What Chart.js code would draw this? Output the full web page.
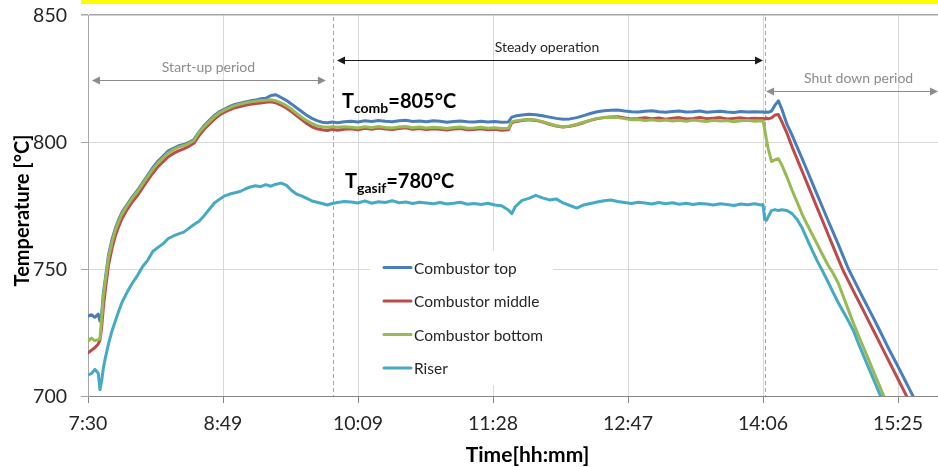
<!DOCTYPE html>
<html>
<head>
<meta charset="utf-8">
<script src="https://cdn.jsdelivr.net/npm/chart.js@4.4.1/dist/chart.umd.min.js"></script>
<style>
  html, body { margin: 0; padding: 0; background: #ffffff; }
  #wrap { width: 938px; height: 467px; position: relative; }
  canvas { display: block; }
</style>
</head>
<body>
<div id="wrap"><canvas id="chart" width="938" height="467"></canvas></div>
<script>
// Sample times, in minutes after 7:30
const timeMin = [
  0, 2, 4, 6, 7, 8, 9, 10, 12, 14, 16, 18, 20,
  23, 26, 29, 32, 35, 38, 41, 44, 47, 50, 53, 56, 59, 62, 65, 68, 71, 74, 77, 80,
  83, 86, 89, 92, 95, 98, 101, 104, 107, 110, 113, 116, 119, 122, 125, 128, 131,
  134, 137, 140, 143, 146, 150,
  154, 158, 162, 166, 170, 174, 178, 182, 186, 190, 194, 198, 202, 206, 210, 214,
  218, 222, 226, 230, 234, 238, 242, 246, 248, 250, 254, 258, 262, 266, 270, 274,
  278, 282, 286, 290, 294, 298, 302, 306, 310, 314, 318, 322, 326, 330, 334, 338,
  342, 346, 350, 354, 358, 362, 366, 370, 374, 378, 382, 386, 390, 394,
  395, 396, 397, 398, 400, 402, 404, 406, 409, 412, 415, 418, 421, 424, 427, 430,
  433, 436, 439, 442, 445, 448, 451, 454, 457, 460, 463, 466, 469, 472, 475, 478,
  481, 484, 487, 490, 493, 496, 498
];

// X axis tick positions (minutes after 7:30) and their clock labels
const tickMinutes = [0, 79, 158, 237, 316, 395, 474];
const tickLabels = ['7:30', '8:49', '10:09', '11:28', '12:47', '14:06', '15:25'];

// Temperatures, °C
const combustorTop = [
  731.5, 732.0, 731.0, 732.2, 729.5, 732.5, 740.5, 745.5, 755.5, 761.5, 766.0, 769.5, 772.5,
  775.5, 778.5, 781.0, 784.0, 787.0, 790.0, 792.5, 794.5, 796.5, 797.5, 798.5, 799.0, 799.8,
  801.0, 804.0, 806.5, 808.5, 810.5, 812.0, 813.0, 814.0, 814.8, 815.3, 815.8, 816.2, 816.5,
  817.0, 817.2, 818.3, 818.6, 817.5, 816.4, 815.0, 813.5, 812.0, 810.5, 809.3, 808.4, 807.8,
  807.6, 807.9, 807.6, 808.0,
  808.2, 807.9, 808.4, 808.1, 808.5, 808.2, 808.0, 808.4, 808.6, 808.1, 808.3, 808.0, 808.4,
  808.2, 807.8, 808.1, 808.3, 808.0, 807.9, 808.2, 807.9, 808.1, 807.8, 807.9, 809.8, 810.2,
  810.6, 810.9, 810.7, 810.3, 809.8, 809.3, 809.0, 809.1, 809.6, 810.4, 811.2, 811.9, 812.3,
  812.5, 812.6, 812.2, 811.9, 811.8, 812.1, 812.3, 811.9, 811.7, 812.0, 812.2, 811.8, 811.9,
  812.2, 811.7, 811.9, 812.1, 811.8, 811.6, 812.0, 811.8, 811.9, 811.8,
  811.9, 811.6, 811.8, 811.7, 812.2, 814.5, 816.2, 813.0, 807.0, 802.7, 798.0, 793.3, 788.5,
  783.6, 778.8, 774.0, 769.2, 764.5, 759.8, 754.9, 750.0, 746.0, 742.0, 738.0, 734.1, 730.2,
  726.2, 722.1, 718.0, 714.2, 710.3, 706.3, 702.3, 698.4, 694.5, null, null, null, null
];
const combustorMiddle = [
  717.0, 718.0, 719.0, 720.5, 722.0, 727.0, 735.0, 741.0, 751.5, 758.0, 763.0, 766.8, 770.0,
  773.5, 776.5, 779.0, 782.0, 785.0, 787.8, 790.3, 792.3, 794.2, 795.5, 796.5, 797.3, 798.3,
  799.5, 802.5, 805.0, 807.0, 809.0, 810.6, 811.8, 812.7, 813.5, 814.0, 814.5, 814.9, 815.2,
  815.4, 815.6, 815.8, 815.4, 814.5, 813.4, 812.0, 810.4, 808.8, 807.3, 806.0, 805.2, 804.8,
  804.5, 805.0, 804.6, 805.0,
  805.2, 804.8, 805.4, 805.0, 805.5, 805.1, 804.9, 805.3, 805.6, 805.0, 805.3, 804.9, 805.2,
  805.0, 804.7, 805.1, 805.3, 804.8, 804.9, 805.2, 804.8, 805.0, 804.6, 804.8, 807.6, 808.0,
  808.5, 808.8, 808.5, 807.9, 807.0, 806.3, 805.9, 806.2, 806.8, 807.6, 808.5, 809.2, 809.6,
  809.8, 809.9, 809.5, 809.1, 809.3, 809.6, 809.2, 809.5, 809.0, 809.4, 809.6, 809.1, 809.3,
  809.7, 809.2, 809.4, 809.6, 809.1, 809.3, 809.5, 809.2, 809.4, 809.3,
  809.3, 809.0, 809.4, 809.1, 809.5, 810.6, 810.8, 808.0, 803.5, 798.1, 793.2, 788.3, 783.4,
  778.5, 773.6, 768.7, 763.8, 758.9, 754.0, 749.2, 745.2, 741.2, 737.3, 733.3, 729.3, 725.3,
  721.3, 717.3, 713.3, 709.3, 705.3, 701.3, 697.3, 693.3, null, null, null, null, null
];
const combustorBottom = [
  721.5, 722.8, 721.8, 722.2, 722.5, 731.0, 739.5, 744.5, 754.5, 760.5, 765.2, 768.8, 771.8,
  775.0, 778.0, 780.5, 783.5, 786.5, 789.3, 791.8, 793.8, 795.7, 797.0, 798.0, 798.6, 799.4,
  800.6, 803.8, 806.0, 808.0, 810.0, 811.5, 812.6, 813.5, 814.3, 814.9, 815.4, 815.8, 816.0,
  816.3, 816.4, 816.6, 816.2, 815.4, 814.3, 813.0, 811.3, 809.8, 808.4, 807.3, 806.4, 806.0,
  805.8, 806.0, 805.8, 806.0,
  805.8, 805.5, 806.0, 805.6, 806.1, 805.7, 805.5, 805.9, 806.1, 805.6, 805.9, 805.5, 805.8,
  805.6, 805.3, 805.7, 805.9, 805.4, 805.5, 805.8, 805.4, 805.6, 805.3, 805.4, 807.9, 808.3,
  808.7, 809.0, 808.7, 808.0, 807.2, 806.4, 806.0, 806.3, 807.0, 807.8, 808.6, 809.3, 809.6,
  809.7, 809.6, 809.2, 808.8, 808.9, 808.5, 808.8, 808.4, 808.7, 808.3, 808.6, 808.2, 808.7,
  808.4, 808.1, 808.6, 808.3, 808.5, 808.0, 808.4, 808.6, 808.2, 808.4,
  808.3, 805.0, 801.0, 797.5, 792.3, 793.0, 793.4, 791.0, 786.2, 781.0, 776.2, 771.4, 767.3,
  763.4, 759.4, 755.4, 751.6, 748.3, 744.5, 739.2, 733.8, 728.5, 723.6, 718.8, 714.0, 709.0,
  704.3, 699.4, 694.5, null, null, null, null, null, null, null, null, null, null
];
const riser = [
  708.3, 708.8, 710.5, 709.0, 702.5, 706.0, 711.0, 714.5, 720.5, 725.5, 729.5, 733.5, 737.0,
  741.0, 744.5, 747.5, 751.0, 753.5, 757.0, 758.5, 760.0, 762.0, 763.0, 763.8, 764.5, 766.0,
  767.5, 768.8, 771.0, 773.5, 776.0, 777.5, 778.8, 779.5, 780.0, 780.5, 781.5, 782.3, 782.8,
  782.4, 783.2, 782.6, 783.4, 783.8, 783.0, 781.0, 779.5, 778.8, 777.8, 776.8, 776.3, 775.8,
  775.2, 775.8, 776.2, 776.6,
  776.4, 776.0, 776.8, 775.9, 776.5, 776.2, 776.9, 776.1, 776.4, 775.8, 776.3, 776.0, 775.7,
  776.2, 775.6, 775.9, 776.3, 775.5, 775.8, 775.4, 775.9, 775.2, 774.9, 773.2, 771.8, 774.5,
  777.0, 777.8, 779.0, 778.0, 777.2, 777.6, 776.0, 775.0, 774.0, 775.2, 775.8, 776.4, 776.9,
  777.2, 776.6, 776.2, 775.8, 776.3, 776.0, 775.6, 776.2, 775.7, 776.1, 775.5, 775.9, 775.4,
  775.8, 775.6, 775.2, 775.7, 775.4, 775.0, 775.6, 775.3, 775.7, 775.2,
  775.4, 769.5, 769.2, 770.5, 773.0, 773.4, 773.0, 773.3, 773.0, 771.8, 769.5, 766.0, 761.5,
  757.0, 752.8, 749.0, 745.0, 740.8, 736.8, 733.2, 729.5, 725.6, 720.4, 715.6, 710.8, 706.0,
  701.2, 696.5, null, null, null, null, null, null, null, null, null, null, null
];

const seriesNames = ['Combustor top', 'Combustor middle', 'Combustor bottom', 'Riser'];
const seriesValues = [combustorTop, combustorMiddle, combustorBottom, riser];
const seriesColors = ['#4A7EBB', '#BE4B48', '#98B954', '#46AAC5'];

// Operating phases (minutes after 7:30) and their arrows (level in °C)
const phaseBounds = [143.4, 396.2];
const phaseNames = ['Start-up period', 'Steady operation', 'Shut down period'];
const phaseFrom = [2.3, 145.7, 396.8];
const phaseTo = [139.2, 395.0, 497.4];
const phaseLevel = [824.4, 832.3, 820.1];
const phaseTextAt = [70.5, 268.6, 450.9];
const phaseColors = ['#8c8c8c', '#1a1a1a', '#8c8c8c'];

// Mean temperature notes
const meanLabels = [
  { sub: 'comb', text: '=805°C', at: 148.6, level: 813.4 },
  { sub: 'gasif', text: '=780°C', at: 150.4, level: 782.0 }
];

const FONT = 'Lato, "Open Sans", "DejaVu Sans", sans-serif';

function drawArrowHead(ctx, x, y, dir) {
  ctx.beginPath();
  ctx.moveTo(x, y);
  ctx.lineTo(x - dir * 8, y - 4);
  ctx.lineTo(x - dir * 8, y + 4);
  ctx.closePath();
  ctx.fill();
}

const annotations = {
  id: 'annotations',
  beforeDatasetsDraw(chart) {
    const { ctx, chartArea, scales: { x } } = chart;
    ctx.save();
    ctx.strokeStyle = '#a6a6a6';
    ctx.lineWidth = 1;
    ctx.setLineDash([4, 3]);
    phaseBounds.forEach(t => {
      const px = Math.round(x.getPixelForValue(t)) + 0.5;
      ctx.beginPath();
      ctx.moveTo(px, chartArea.top + 2);
      ctx.lineTo(px, chartArea.bottom);
      ctx.stroke();
    });
    ctx.restore();
  },
  afterDatasetsDraw(chart) {
    const { ctx, scales: { x, y } } = chart;
    ctx.save();
    // phase arrows
    phaseNames.forEach((name, i) => {
      const x1 = x.getPixelForValue(phaseFrom[i]);
      const x2 = x.getPixelForValue(phaseTo[i]);
      const py = Math.round(y.getPixelForValue(phaseLevel[i])) + 0.5;
      ctx.strokeStyle = phaseColors[i];
      ctx.fillStyle = phaseColors[i];
      ctx.lineWidth = 1;
      ctx.beginPath();
      ctx.moveTo(x1 + 4, py);
      ctx.lineTo(x2 - 4, py);
      ctx.stroke();
      drawArrowHead(ctx, x1, py, -1);
      drawArrowHead(ctx, x2, py, 1);
      ctx.font = '14px ' + FONT;
      ctx.textAlign = 'center';
      ctx.textBaseline = 'alphabetic';
      ctx.fillStyle = i === 1 ? '#262626' : '#8c8c8c';
      ctx.fillText(name, x.getPixelForValue(phaseTextAt[i]), py - 9);
    });
    // mean temperature notes
    meanLabels.forEach(m => {
      let px = x.getPixelForValue(m.at);
      const py = y.getPixelForValue(m.level);
      ctx.fillStyle = '#000000';
      ctx.textAlign = 'left';
      ctx.font = 'bold 20px ' + FONT;
      ctx.fillText('T', px, py);
      px += ctx.measureText('T').width;
      ctx.font = 'bold 14px ' + FONT;
      ctx.fillText(m.sub, px, py + 5);
      px += ctx.measureText(m.sub).width;
      ctx.font = 'bold 20px ' + FONT;
      ctx.fillText(m.text, px, py);
    });
    ctx.restore();
  },
  afterDraw(chart) {
    const { ctx, chartArea, scales: { y } } = chart;
    ctx.save();
    // highlight strip along the top edge
    ctx.fillStyle = '#ffff00';
    ctx.fillRect(81, 0, chartArea.right - 81, 4);
    // temperature tick labels
    ctx.fillStyle = '#262626';
    ctx.font = '19.5px ' + FONT;
    ctx.textAlign = 'right';
    ctx.textBaseline = 'middle';
    y.ticks.forEach(t => {
      ctx.fillText(String(t.value), chartArea.left - 21, y.getPixelForValue(t.value) + 1);
    });
    // legend box
    ctx.fillStyle = '#ffffff';
    ctx.fillRect(370, 251, 183, 134);
    const rows = [267.5, 301, 334.5, 368];
    ctx.font = '15.5px ' + FONT;
    ctx.textAlign = 'left';
    ctx.textBaseline = 'middle';
    chart.data.datasets.forEach((ds, i) => {
      ctx.strokeStyle = ds.borderColor;
      ctx.lineWidth = 3;
      ctx.lineCap = 'round';
      ctx.beginPath();
      ctx.moveTo(384, rows[i]);
      ctx.lineTo(411, rows[i]);
      ctx.stroke();
      ctx.fillStyle = '#262626';
      ctx.fillText(ds.label, 414, rows[i] + 1);
    });
    // axis titles
    ctx.fillStyle = '#000000';
    ctx.textAlign = 'center';
    ctx.textBaseline = 'alphabetic';
    ctx.font = 'bold 21px ' + FONT;
    ctx.fillText('Time[hh:mm]', 527.5, 461.5);
    ctx.font = 'bold 20px ' + FONT;
    ctx.translate(29, 210.5);
    ctx.rotate(-Math.PI / 2);
    ctx.fillText('Temperature [°C]', 0, 0);
    ctx.restore();
  }
};

new Chart(document.getElementById('chart'), {
  type: 'line',
  data: {
    datasets: seriesNames.map((name, i) => ({
      label: name,
      data: timeMin.map((t, j) => ({ x: t, y: seriesValues[i][j] })),
      borderColor: seriesColors[i],
      backgroundColor: seriesColors[i],
      borderWidth: 3,
      pointRadius: 0,
      tension: 0,
      spanGaps: false,
      borderJoinStyle: 'round',
      borderCapStyle: 'round',
      order: seriesNames.length - i
    }))
  },
  options: {
    responsive: false,
    animation: false,
    devicePixelRatio: 1,
    layout: { padding: { top: 15, right: 0, bottom: 0, left: 0 } },
    plugins: { legend: { display: false }, tooltip: { enabled: false } },
    scales: {
      x: {
        type: 'linear',
        min: 0,
        max: 497.4,
        afterBuildTicks: s => { s.ticks = tickMinutes.map(v => ({ value: v })); },
        afterFit: s => { s.height = 71; s.paddingLeft = 0; s.paddingRight = 0; },
        ticks: {
          autoSkip: false,
          maxRotation: 0,
          padding: 9,
          color: '#262626',
          font: { family: FONT, size: 19.5 },
          callback: (v, i) => tickLabels[i]
        },
        grid: {
          color: c => (c.tick && c.tick.value === 0 ? '#a6a6a6' : '#d9d9d9'),
          tickColor: '#868686',
          tickLength: 7,
          lineWidth: 1
        },
        border: { color: '#868686', width: 1 }
      },
      y: {
        min: 700,
        max: 850,
        afterFit: s => { s.width = 88; s.paddingTop = 0; s.paddingBottom = 0; },
        ticks: { stepSize: 50, display: false },
        grid: {
          color: c => (c.tick && c.tick.value === 700 ? '#868686' : (c.tick && c.tick.value === 850 ? '#a6a6a6' : '#d9d9d9')),
          tickColor: '#a6a6a6',
          tickLength: 7,
          lineWidth: c => (c.tick && c.tick.value === 850 ? 1.5 : 1)
        },
        border: { color: '#a6a6a6', width: 1 }
      }
    }
  },
  plugins: [annotations]
});
</script>
</body>
</html>
